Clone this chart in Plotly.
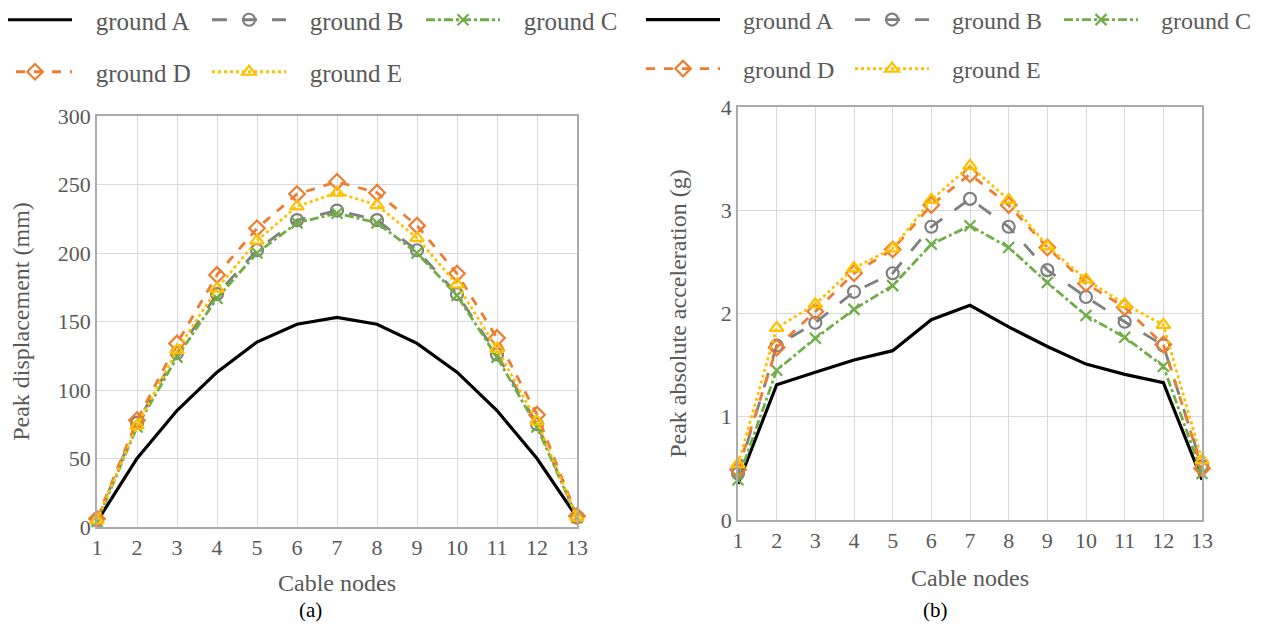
import plotly.graph_objects as go

# ---------------- data ----------------
nodes = [1, 2, 3, 4, 5, 6, 7, 8, 9, 10, 11, 12, 13]
series_names = ["ground A", "ground B", "ground C", "ground D", "ground E"]

disp_A = [4, 50, 85, 113, 135, 148, 153, 148, 134, 113, 85, 50, 7]
disp_B = [5, 76, 127, 170, 202, 224, 231, 224, 202, 170, 126, 75, 7]
disp_C = [4, 73, 124, 167, 200, 222, 229, 222, 200, 169, 124, 73, 7]
disp_D = [6, 78, 134, 184, 218, 243, 252, 244, 220, 185, 138, 82, 8]
disp_E = [5, 74, 129, 174, 209, 234, 244, 235, 211, 177, 130, 77, 7]

acc_A = [0.35, 1.31, 1.43, 1.55, 1.64, 1.94, 2.08, 1.87, 1.68, 1.51, 1.41, 1.33, 0.39]
acc_B = [0.45, 1.69, 1.91, 2.21, 2.39, 2.84, 3.11, 2.84, 2.42, 2.16, 1.92, 1.69, 0.52]
acc_C = [0.39, 1.45, 1.76, 2.04, 2.27, 2.67, 2.85, 2.64, 2.30, 1.98, 1.77, 1.49, 0.45]
acc_D = [0.49, 1.67, 2.02, 2.39, 2.62, 3.05, 3.35, 3.05, 2.64, 2.29, 2.06, 1.70, 0.50]
acc_E = [0.54, 1.86, 2.09, 2.44, 2.63, 3.10, 3.43, 3.10, 2.65, 2.33, 2.09, 1.89, 0.58]

disp_ticks = [0, 50, 100, 150, 200, 250, 300]
acc_ticks = [0, 1, 2, 3, 4]

# ---------------- styles ----------------
FONT = "Liberation Serif"
TXT = "#595959"
PAD = "\u00a0\u00a0\u00a0"
styles = [
    dict(color="#000000", dash="solid", width=3.2, symbol=None),
    dict(color="#7F7F7F", dash="longdash", width=2.8, symbol="circle-open"),
    dict(color="#70AD47", dash="dashdot", width=2.8, symbol="x-thin-open"),
    dict(color="#ED7D31", dash="dash", width=2.8, symbol="diamond-open"),
    dict(color="#FFC000", dash="dot", width=2.8, symbol="triangle-up-open"),
]

fig = go.Figure()

def add_series(ys_list, xaxis, yaxis, legends):
    for i, (name, ys, st) in enumerate(zip(series_names, ys_list, styles)):
        mode = "lines" if st["symbol"] is None else "lines+markers"
        marker = {}
        if st["symbol"] is not None:
            marker = dict(symbol=st["symbol"], size=12 if "x" not in st["symbol"] else 11,
                          color=st["color"], line=dict(width=2.2, color=st["color"]))
        fig.add_trace(go.Scatter(
            x=nodes, y=ys, name=PAD + name, mode=mode,
            line=dict(color=st["color"], dash=st["dash"], width=st["width"]),
            marker=marker, xaxis=xaxis, yaxis=yaxis, cliponaxis=False,
            legend=legends[0] if i < 3 else legends[1],
        ))

add_series([disp_A, disp_B, disp_C, disp_D, disp_E], "x", "y", ["legend", "legend2"])
add_series([acc_A, acc_B, acc_C, acc_D, acc_E], "x2", "y2", ["legend3", "legend4"])

# page offset (body margin) compensation: keep the page from overflowing the window
OFF = 8
W, H = 1263 - 2 * OFF, 631 - 2 * OFF

def px(p):
    return (p - OFF) / W

def py(p):
    return (H - (p - OFF)) / H

def xa(p0, p1):
    return [px(p0), px(p1)]

def ya(top, bottom):
    return [py(bottom), py(top)]

axis_common = dict(
    showgrid=True, gridcolor="#D9D9D9", gridwidth=1,
    showline=True, linecolor="#ABABAB", linewidth=1.5, mirror=True,
    ticks="", zeroline=False, automargin=False,
    tickfont=dict(family=FONT, size=22, color=TXT),
)
title_font = dict(family=FONT, size=24, color=TXT)

leg_common = dict(
    orientation="h", bgcolor="rgba(0,0,0,0)", borderwidth=0,
    itemwidth=74, entrywidthmode="pixels",
    xanchor="left", yanchor="middle", tracegroupgap=0,
)
leg_font_l = dict(family=FONT, size=25, color=TXT)
leg_font_r = dict(family=FONT, size=24, color=TXT)

fig.update_layout(
    width=W, height=H, autosize=False,
    margin=dict(l=0, r=0, t=0, b=0, autoexpand=False),
    paper_bgcolor="white", plot_bgcolor="white",
    showlegend=True,
    xaxis=dict(domain=xa(97, 577), range=[1, 13], tickvals=nodes, anchor="y",
               title=dict(text="Cable nodes", font=title_font, standoff=15),
               **axis_common),
    yaxis=dict(domain=ya(116, 527), range=[0, 300], tickvals=disp_ticks, anchor="x",
               title=dict(text="Peak displacement (mm)", font=title_font, standoff=23),
               **axis_common),
    xaxis2=dict(domain=xa(738, 1202), range=[1, 13], tickvals=nodes, anchor="y2",
                title=dict(text="Cable nodes", font=title_font, standoff=17),
                **axis_common),
    yaxis2=dict(domain=ya(107, 520), range=[0, 4], tickvals=acc_ticks, anchor="x2",
                title=dict(text="Peak absolute acceleration (g)", font=title_font, standoff=27),
                **axis_common),
    legend=dict(x=0, y=py(20), entrywidth=140, indentation=-15, font=leg_font_l, **leg_common),
    legend2=dict(x=0, y=py(72), entrywidth=140, indentation=-15, font=leg_font_l, **leg_common),
    legend3=dict(x=px(641), y=py(20), entrywidth=120, font=leg_font_r, **leg_common),
    legend4=dict(x=px(641), y=py(69), entrywidth=120, font=leg_font_r, **leg_common),
    annotations=[
        dict(text="(a)", x=px(297), y=py(610), xref="paper", yref="paper",
             yanchor="middle", showarrow=False, font=dict(family=FONT, size=21, color="#000000")),
        dict(text="(b)", x=px(950), y=py(610), xref="paper", yref="paper",
             yanchor="middle", showarrow=False, font=dict(family=FONT, size=21, color="#000000")),
    ],
)

fig.write_html("out.html")
